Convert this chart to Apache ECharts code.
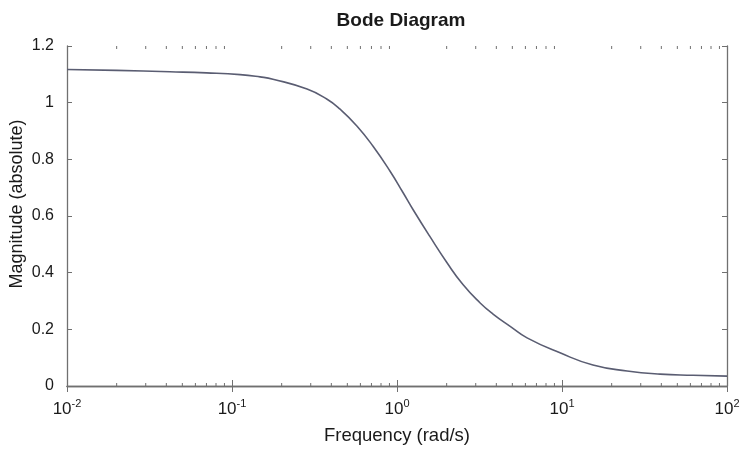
<!DOCTYPE html>
<html>
<head>
<meta charset="utf-8">
<script src="https://cdn.jsdelivr.net/npm/echarts@6/dist/echarts.min.js"></script>
<style>html,body{margin:0;padding:0;background:#fff}#c{width:741px;height:456px}</style>
</head>
<body>
<div id="c"></div>
<script>
var titleText = 'Bode Diagram';
var xName = 'Frequency (rad/s)';
var yName = 'Magnitude (absolute)';
var freq = [0.01, 0.02, 0.042, 0.07, 0.112, 0.148, 0.177, 0.285, 0.377, 0.452, 0.573, 0.716, 0.908, 1.087, 1.25, 1.585, 2.01, 2.51, 3.18, 3.82, 4.9, 6.14, 9.73, 15.4, 24.8, 39.3, 62.2, 100];
var mag  = [1.117, 1.114, 1.109, 1.105, 1.099, 1.091, 1.083, 1.048, 1.012, 0.977, 0.917, 0.846, 0.758, 0.683, 0.623, 0.527, 0.435, 0.358, 0.294, 0.254, 0.209, 0.170, 0.117, 0.074, 0.053, 0.042, 0.038, 0.035];
var yTicks = [0, 0.2, 0.4, 0.6, 0.8, 1, 1.2];
var minorTickVals = [];
[0.01, 0.1, 1, 10].forEach(function (d) { for (var k = 2; k <= 9; k++) minorTickVals.push(+(d * k).toPrecision(3)); });

var chart = echarts.init(document.getElementById('c'));
var font = '"Liberation Sans", Arial, sans-serif';
var axisCol = '#707070';
function expLabel(v) {
  var e = Math.round(Math.log10(v));
  return '{b|10}{s|' + e + '}';
}
chart.setOption({
  animation: false,
  title: { text: titleText, left: 396, top: 6, textAlign: 'center',
    textStyle: { fontFamily: font, fontSize: 19, fontWeight: 'bold', color: '#1a1a1a' } },
  grid: { left: 67, right: 14, top: 46, bottom: 70, containLabel: false, outerBoundsMode: 'none' },
  xAxis: [{
    type: 'log', logBase: 10, min: 0.01, max: 100, position: 'bottom',
    name: xName, nameLocation: 'middle', nameGap: 40, nameMoveOverlap: false,
    nameTextStyle: { fontFamily: font, fontSize: 18.5, color: '#1a1a1a' },
    axisLine: { lineStyle: { color: axisCol, width: 1.3 } },
    axisTick: { inside: true, length: 6, lineStyle: { color: axisCol } },
    splitLine: { show: false },
    axisLabel: { formatter: expLabel, margin: 12,
      rich: { b: { fontFamily: font, fontSize: 17, color: '#1a1a1a' },
              s: { fontFamily: font, fontSize: 11, color: '#1a1a1a', padding: [0, 0, 11, 0] } } }
  }, {
    type: 'log', logBase: 10, min: 0.01, max: 100, position: 'top',
    axisLine: { lineStyle: { color: axisCol, width: 1.3 } },
    axisTick: { inside: true, length: 6, lineStyle: { color: axisCol } },
    axisLabel: { show: false }, splitLine: { show: false }
  }],
  yAxis: [{
    type: 'value', min: 0, max: 1.2, interval: 0.2, position: 'left',
    name: yName, nameLocation: 'middle', nameGap: 41, nameMoveOverlap: false,
    nameTextStyle: { fontFamily: font, fontSize: 18, color: '#1a1a1a', padding: [0, 0, 0, 24] },
    axisLine: { show: true, lineStyle: { color: axisCol, width: 1.3 } },
    axisTick: { show: true, inside: true, length: 5, lineStyle: { color: axisCol } },
    splitLine: { show: false },
    axisLabel: { fontFamily: font, fontSize: 16, color: '#1a1a1a', margin: 13,
      formatter: function (v) { return String(+v.toFixed(1)); } }
  }, {
    type: 'value', min: 0, max: 1.2, interval: 0.2, position: 'right',
    axisLine: { show: true, lineStyle: { color: axisCol, width: 1.3 } },
    axisTick: { show: true, inside: true, length: 5, lineStyle: { color: axisCol } },
    axisLabel: { show: false }, splitLine: { show: false }
  }],
  series: [{
    type: 'line', xAxisIndex: 0, yAxisIndex: 0, smooth: 0.5, symbol: 'none',
    lineStyle: { color: '#5a5d72', width: 1.6 },
    data: freq.map(function (f, i) { return [f, mag[i]]; })
  }, {
    type: 'custom', xAxisIndex: 0, yAxisIndex: 0, silent: true,
    data: minorTickVals.map(function (v) { return [v]; }),
    renderItem: function (params, api) {
      var pb = api.coord([api.value(0), 0]);
      var pt = api.coord([api.value(0), 1.2]);
      var st = { stroke: axisCol, lineWidth: 1 };
      return { type: 'group', children: [
        { type: 'line', shape: { x1: pb[0], y1: pb[1], x2: pb[0], y2: pb[1] - 3 }, style: st },
        { type: 'line', shape: { x1: pt[0], y1: pt[1], x2: pt[0], y2: pt[1] + 3 }, style: st }
      ] };
    }
  }]
});
</script>
</body>
</html>
